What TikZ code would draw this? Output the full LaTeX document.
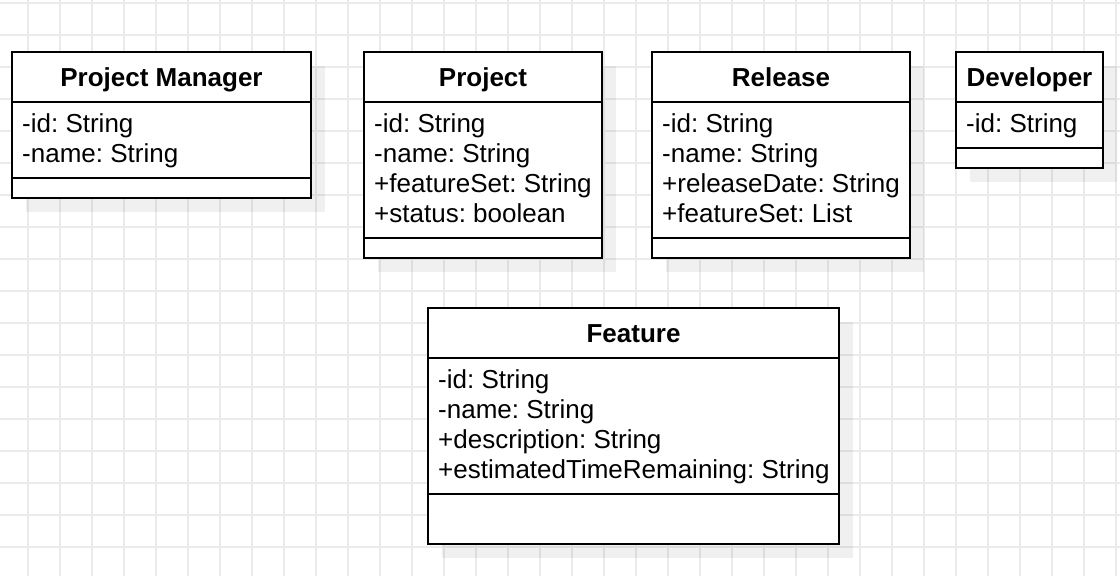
\documentclass[tikz,border=0pt]{standalone}
\usepackage{fontspec}
\setmainfont{Liberation Sans}
\frenchspacing
\begin{document}
\begin{tikzpicture}[x=1pt,y=-1pt,
  gridline/.style={draw=black!8,line width=1.2pt},
  boxline/.style={draw=black,line width=2pt},
  shadowfill/.style={fill=black,fill opacity=0.06,draw=none},
  title/.style={anchor=base,inner sep=0pt,font=\fontsize{26}{30}\selectfont\bfseries\frenchspacing},
  attr/.style={anchor=base west,inner sep=0pt,font=\fontsize{26}{30}\selectfont\frenchspacing}]
\useasboundingbox (0,0) rectangle (1120,576);
\fill[white] (0,0) rectangle (1120,576);
% grid
\foreach \x in {28,60,...,1116} \draw[gridline] (\x,0) -- (\x,576);
\foreach \y in {3,35,...,575} \draw[gridline] (0,\y) -- (1120,\y);
% class macro: #1 name, #2 left, #3 top, #4 right, #5 header bottom, #6 divider, #7 bottom, #8 title
\newcommand{\umlclass}[8]{%
  \fill[shadowfill] (#2+14,#3+14) rectangle (#4+14,#7+14);
  \filldraw[fill=white,boxline] (#2,#3) rectangle (#4,#7);
  \draw[boxline] (#2,#5) -- (#4,#5);
  \draw[boxline] (#2,#6) -- (#4,#6);
  \node[title] (#1-t) at ({(#2+#4)/2},#3+34) {#8};
}
\umlclass{pm}{12}{52}{311}{102}{178}{198}{Project Manager}
\node[attr] (pm-a1) at (22,132) {-id: String};
\node[attr] (pm-a2) at (22,162) {-name: String};

\umlclass{pr}{364}{52}{602}{102}{238}{258}{Project}
\node[attr] (pr-a1) at (374,132) {-id: String};
\node[attr] (pr-a2) at (374,162) {-name: String};
\node[attr] (pr-a3) at (374,192) {+featureSet: String};
\node[attr] (pr-a4) at (374,222) {+status: boolean};

\umlclass{re}{652}{52}{910}{102}{238}{258}{Release}
\node[attr] (re-a1) at (662,132) {-id: String};
\node[attr] (re-a2) at (662,162) {-name: String};
\node[attr] (re-a3) at (662,192) {+releaseDate: String};
\node[attr] (re-a4) at (662,222) {+featureSet: List};

\umlclass{de}{956}{52}{1103}{102}{148}{168}{Developer}
\node[attr] (de-a1) at (966,132) {-id: String};

\umlclass{fe}{428}{308}{839}{358}{494}{544}{Feature}
\node[attr] (fe-a1) at (438,388) {-id: String};
\node[attr] (fe-a2) at (438,418) {-name: String};
\node[attr] (fe-a3) at (438,448) {+description: String};
\node[attr] (fe-a4) at (438,478) {+estimatedTimeRemaining: String};
\end{tikzpicture}
\end{document}
